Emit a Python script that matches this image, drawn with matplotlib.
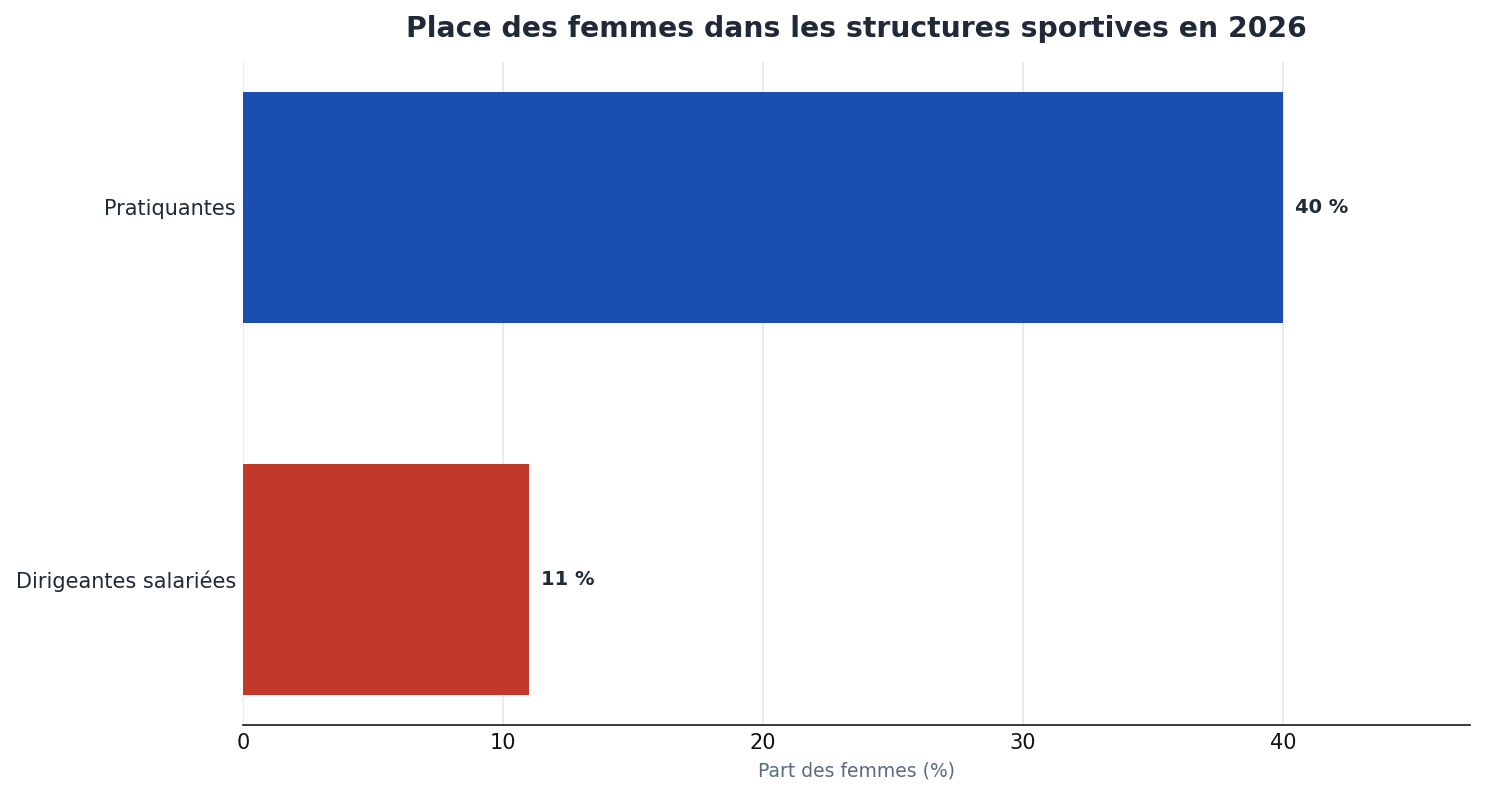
import matplotlib
matplotlib.use("Agg")
import matplotlib.pyplot as plt

categories = ["Dirigeantes salariées", "Pratiquantes"]
values = [11, 40]
colors = ["#c0392b", "#1a4fb1"]
labels = ["11 %", "40 %"]

fig = plt.figure(figsize=(14.85, 7.95), dpi=100)
ax = fig.add_axes([243/1485, 1-725/795, (1470-243)/1485, (725-62)/795])

ax.barh(categories, values, height=0.62, color=colors, zorder=2)
ax.set_xlim(0, 47.2)
ax.margins(y=0.05)
ax.set_xticks([0, 10, 20, 30, 40])
ax.grid(axis="x", color="#e5e7eb", linewidth=1.2, zorder=0)
ax.grid(axis="y", visible=False)
for s in ["top", "right", "left"]:
    ax.spines[s].set_visible(False)
ax.spines["bottom"].set_color("#2b2b2b")
ax.spines["bottom"].set_linewidth(1.3)
ax.tick_params(axis="both", length=0, labelsize=15)
ax.tick_params(axis="y", labelcolor="#1f2937", pad=5)
ax.tick_params(axis="x", labelcolor="#111111", pad=6)

for i, (v, lab) in enumerate(zip(values, labels)):
    ax.annotate(lab, xy=(v, i), xytext=(9, 0), textcoords="offset points",
                va="center", ha="left", fontsize=14, fontweight="bold", color="#1f2937")

ax.set_xlabel("Part des femmes (%)", fontsize=13.5, color="#5b6b80", labelpad=6)
ax.set_title("Place des femmes dans les structures sportives en 2026", fontsize=20.3,
             fontweight="bold", color="#1f2937", pad=18)

fig.savefig("out.png", dpi=100)
